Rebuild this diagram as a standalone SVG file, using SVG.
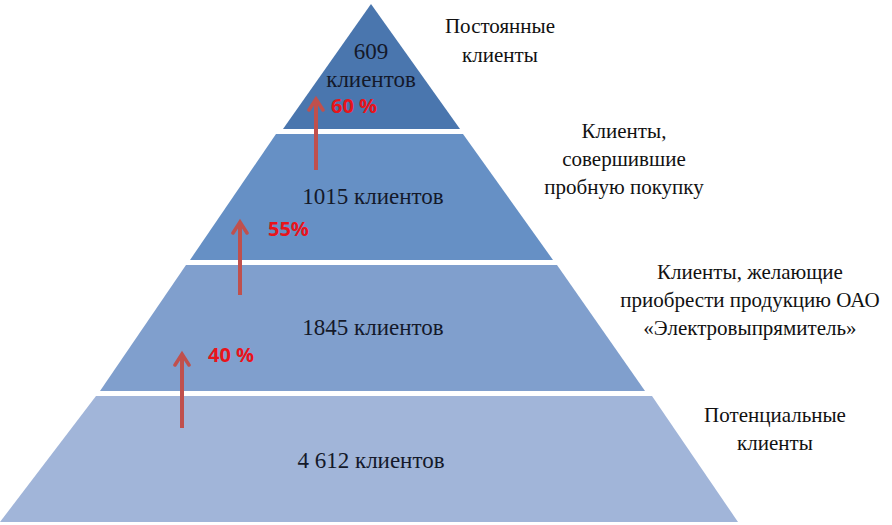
<svg xmlns="http://www.w3.org/2000/svg" width="892" height="525" viewBox="0 0 892 525">
<defs>
<style>
.tier-text{font-size:23px;fill:#14192a;text-anchor:middle}
.side{font-size:21px;fill:#111;text-anchor:middle}
.pct{font-family:'Open Sans','Liberation Sans',sans-serif;font-size:20px;font-weight:bold;fill:#E8141B}
.arrow{stroke:#C0504D;stroke-width:4;fill:none;marker-end:url(#head)}
</style>
<marker id="head" viewBox="0 0 18 18" refX="14" refY="9" markerWidth="18" markerHeight="18" markerUnits="userSpaceOnUse" orient="auto">
<path d="M3,2 L14,9 L3,16" fill="none" stroke="#C0504D" stroke-width="3.5" stroke-linecap="round"/>
</marker>
</defs>
<rect width="892" height="525" fill="#fff"/>
<g font-family="'Times New Roman', Tinos, 'Noto Serif', 'DejaVu Serif', 'Liberation Serif', serif">
<g id="tier1">
<polygon points="371,4 460,129 283,129" fill="#4A76AE"/>
<text class="tier-text" x="371" y="59">609</text>
<text class="tier-text" x="371" y="87">клиентов</text>
</g>
<g id="tier2">
<polygon points="276,134 463,134 553,260 190,260" fill="#6690C5"/>
<text class="tier-text" x="373" y="204">1015 клиентов</text>
</g>
<g id="tier3">
<polygon points="186,265 557,265 645,391 100,391" fill="#809FCD"/>
<text class="tier-text" x="373" y="335">1845 клиентов</text>
</g>
<g id="tier4">
<polygon points="96,396 652,396 738,522 0,522" fill="#A1B5D9"/>
<text class="tier-text" x="371" y="468">4 612 клиентов</text>
</g>
<g id="labels">
<text class="side" x="500" y="33">Постоянные</text>
<text class="side" x="500" y="62">клиенты</text>
<text class="side" x="624" y="138">Клиенты,</text>
<text class="side" x="624" y="166">совершившие</text>
<text class="side" x="624" y="194">пробную покупку</text>
<text class="side" x="750" y="279">Клиенты, желающие</text>
<text class="side" x="750" y="307">приобрести продукцию ОАО</text>
<text class="side" x="750" y="335">«Электровыпрямитель»</text>
<text class="side" x="775" y="422">Потенциальные</text>
<text class="side" x="775" y="450">клиенты</text>
</g>
</g>
<g id="connectors">
<line class="arrow" x1="316" y1="170" x2="316" y2="99"/>
<line class="arrow" x1="240" y1="295" x2="240" y2="222"/>
<line class="arrow" x1="182" y1="428" x2="182" y2="354"/>
</g>
<g id="percent">
<text class="pct" x="331" y="113">60 %</text>
<text class="pct" x="268" y="236">55%</text>
<text class="pct" x="208" y="362">40 %</text>
</g>
</svg>
